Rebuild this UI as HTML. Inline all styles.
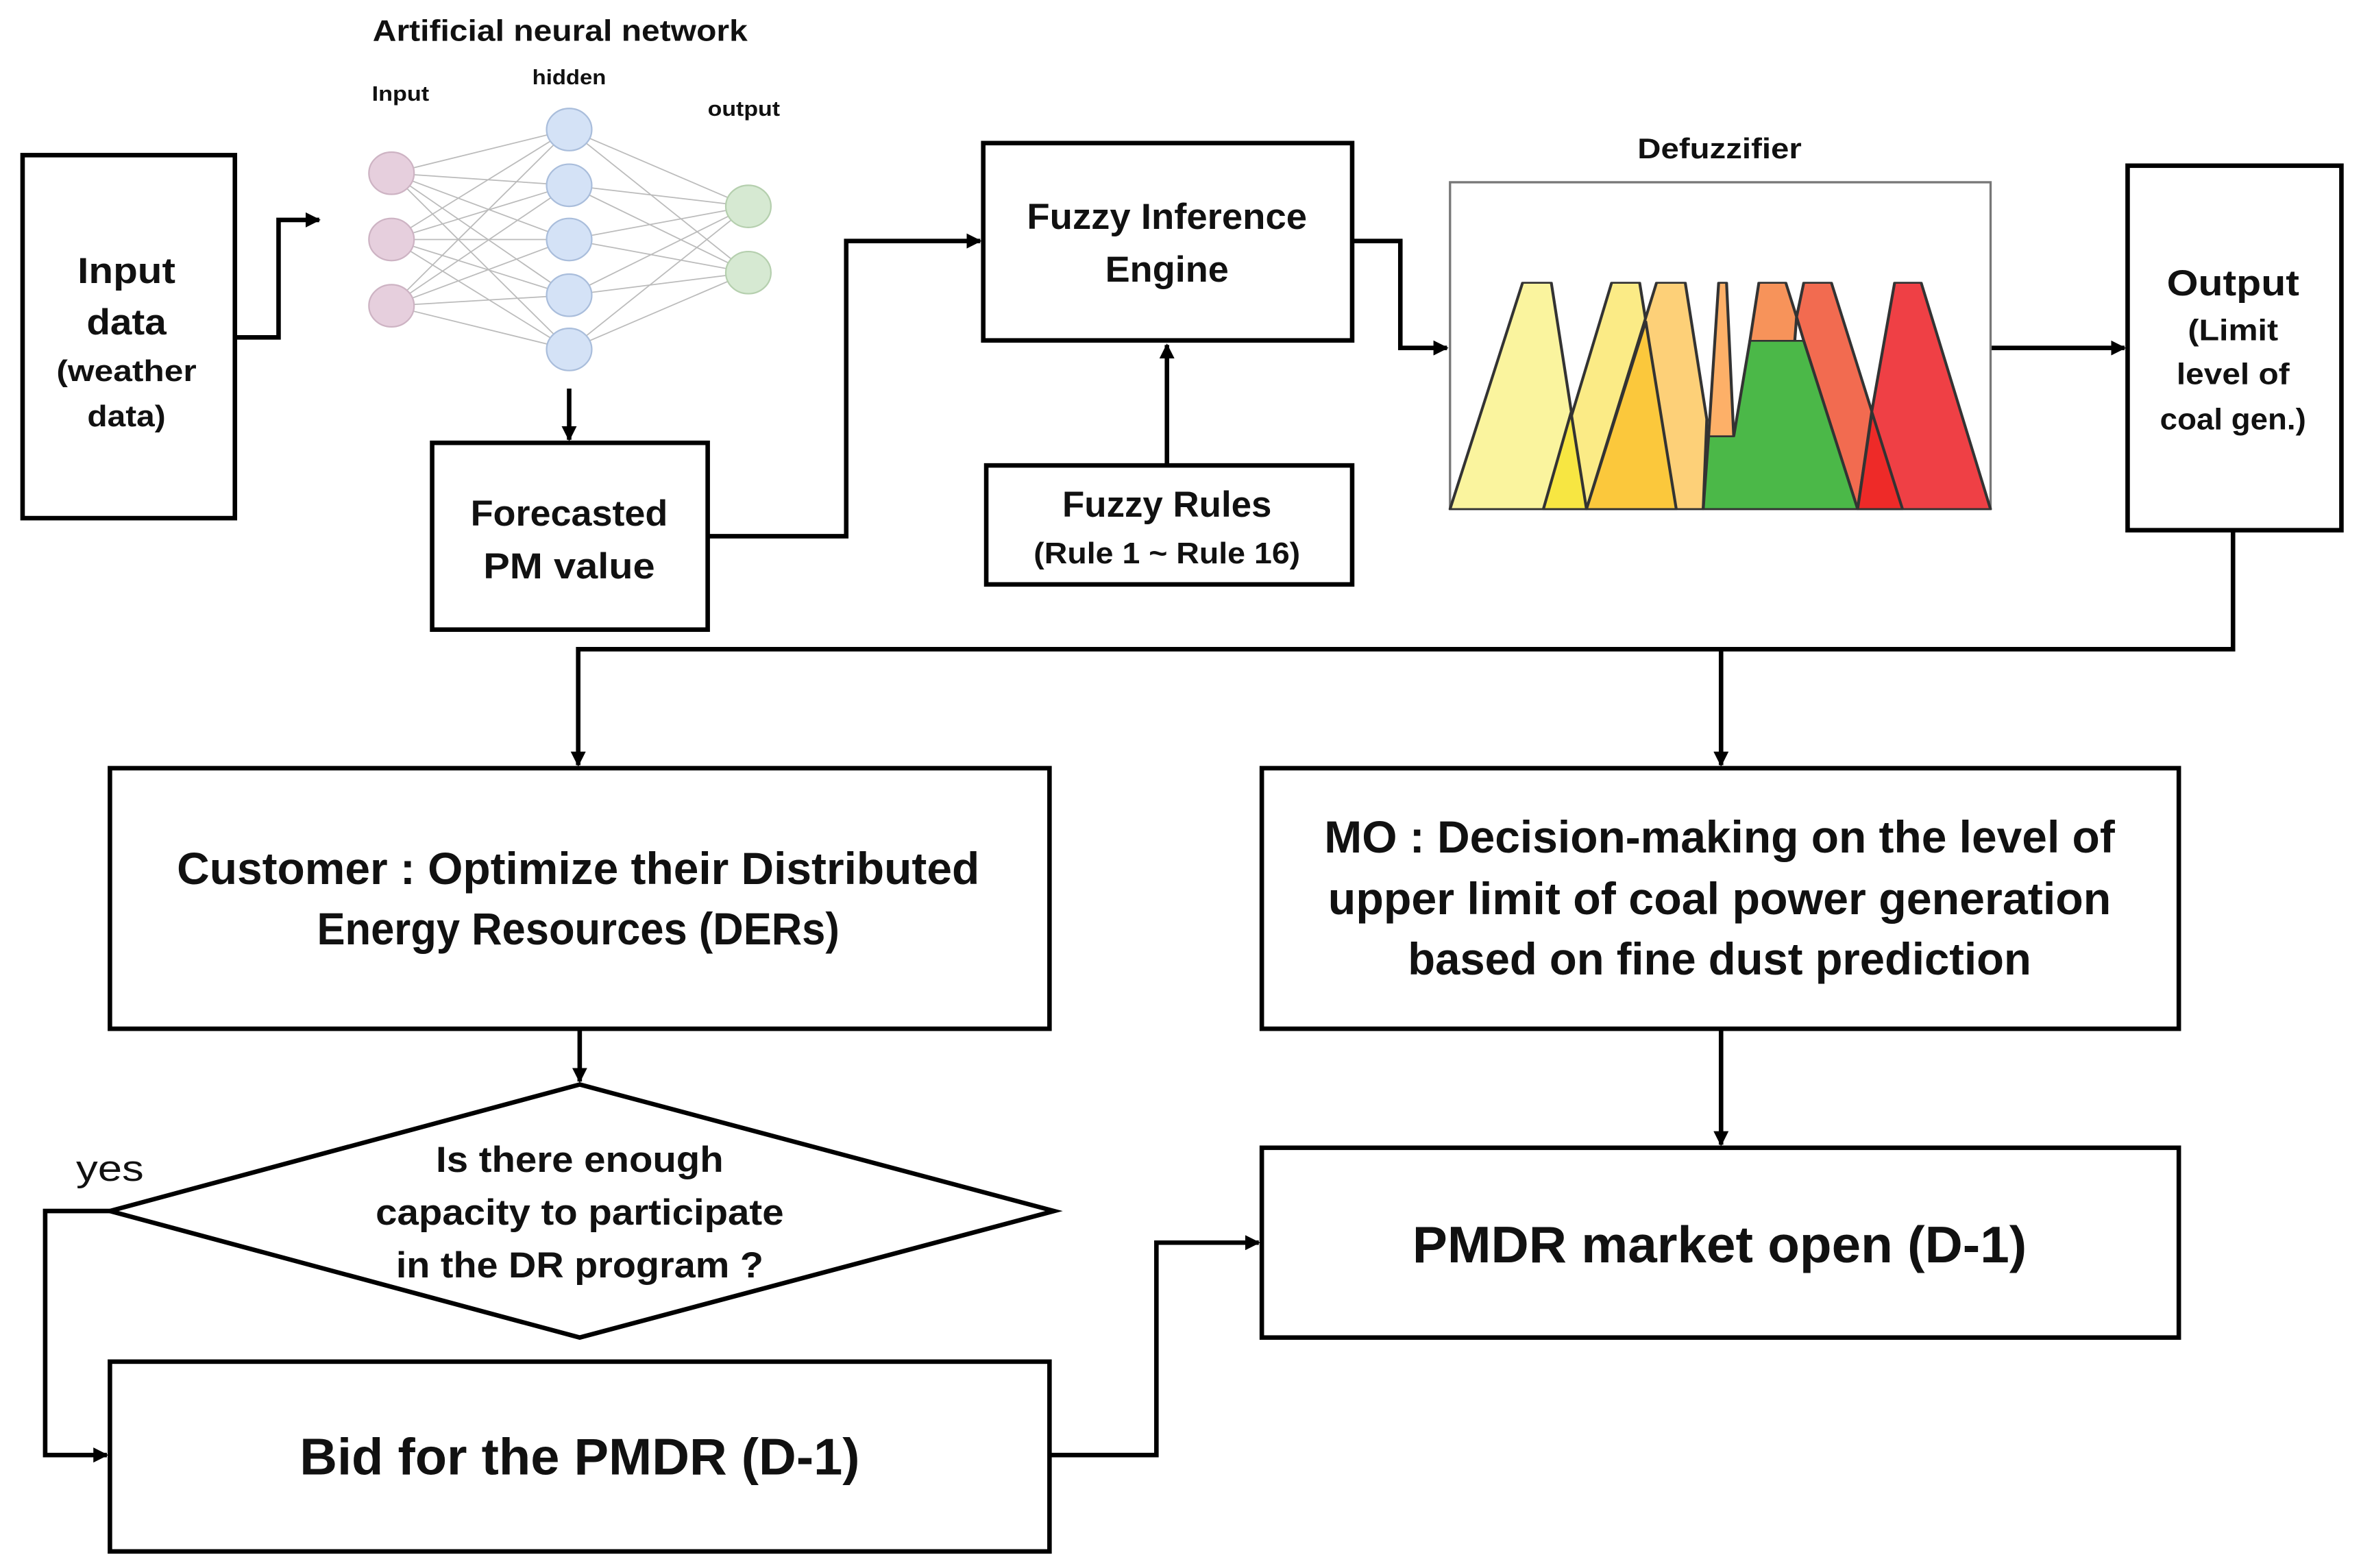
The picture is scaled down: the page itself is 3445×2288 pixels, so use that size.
<!DOCTYPE html>
<html><head><meta charset="utf-8"><style>html,body{margin:0;padding:0;background:#fff}svg{display:block}text{font-family:"Liberation Sans",sans-serif;font-weight:bold;fill:#111;text-anchor:middle}</style></head>
<body>
<svg width="3445" height="2288" viewBox="0 0 1568 1041" preserveAspectRatio="none" xmlns="http://www.w3.org/2000/svg">
<defs><marker id="a" markerWidth="10" markerHeight="10" refX="9" refY="5" orient="auto" markerUnits="userSpaceOnUse"><path d="M0,0 L10,5 L0,10 z" fill="#000"/></marker></defs>
<rect width="1568" height="1041" fill="#fff"/>
<g stroke="#000" stroke-width="3" fill="none">
<rect x="15" y="103" width="141" height="241"/>
<rect x="287" y="294" width="183" height="124"/>
<rect x="653" y="95" width="245" height="131"/>
<rect x="655" y="309" width="243" height="79"/>
<rect x="1413" y="110" width="142" height="242"/>
<rect x="73" y="510" width="624" height="173"/>
<rect x="838" y="510" width="609" height="173"/>
<rect x="73" y="904" width="624" height="126"/>
<rect x="838" y="762" width="609" height="126"/>
<polygon points="385,720 700,804 385,888 73,804"/>
<polyline points="156,224 185,224 185,146 212,146" marker-end="url(#a)"/>
<line x1="378" y1="258" x2="378" y2="292" marker-end="url(#a)"/>
<polyline points="470,356 562,356 562,160 651,160" marker-end="url(#a)"/>
<line x1="775" y1="309" x2="775" y2="229" marker-end="url(#a)"/>
<polyline points="898,160 930,160 930,231 961,231" marker-end="url(#a)"/>
<line x1="1322" y1="231" x2="1411" y2="231" marker-end="url(#a)"/>
<polyline points="1483,352 1483,431 384,431 384,508" marker-end="url(#a)"/>
<line x1="1143" y1="431" x2="1143" y2="508" marker-end="url(#a)"/>
<line x1="385" y1="683" x2="385" y2="718" marker-end="url(#a)"/>
<polyline points="73,804 30,804 30,966 71,966" marker-end="url(#a)"/>
<polyline points="697,966 768,966 768,825 836,825" marker-end="url(#a)"/>
<line x1="1143" y1="683" x2="1143" y2="760" marker-end="url(#a)"/>
</g>
<g stroke="#bbb" stroke-width="0.8">
<line x1="260" y1="115" x2="378" y2="86"/><line x1="260" y1="115" x2="378" y2="123"/><line x1="260" y1="115" x2="378" y2="159"/><line x1="260" y1="115" x2="378" y2="196"/><line x1="260" y1="115" x2="378" y2="232"/>
<line x1="260" y1="159" x2="378" y2="86"/><line x1="260" y1="159" x2="378" y2="123"/><line x1="260" y1="159" x2="378" y2="159"/><line x1="260" y1="159" x2="378" y2="196"/><line x1="260" y1="159" x2="378" y2="232"/>
<line x1="260" y1="203" x2="378" y2="86"/><line x1="260" y1="203" x2="378" y2="123"/><line x1="260" y1="203" x2="378" y2="159"/><line x1="260" y1="203" x2="378" y2="196"/><line x1="260" y1="203" x2="378" y2="232"/>
<line x1="378" y1="86" x2="497" y2="137"/><line x1="378" y1="123" x2="497" y2="137"/><line x1="378" y1="159" x2="497" y2="137"/><line x1="378" y1="196" x2="497" y2="137"/><line x1="378" y1="232" x2="497" y2="137"/>
<line x1="378" y1="86" x2="497" y2="181"/><line x1="378" y1="123" x2="497" y2="181"/><line x1="378" y1="159" x2="497" y2="181"/><line x1="378" y1="196" x2="497" y2="181"/><line x1="378" y1="232" x2="497" y2="181"/>
</g>
<g stroke-width="1">
<g fill="#e6cfdd" stroke="#cdb3c3"><ellipse cx="260" cy="115" rx="15" ry="14"/><ellipse cx="260" cy="159" rx="15" ry="14"/><ellipse cx="260" cy="203" rx="15" ry="14"/></g>
<g fill="#d4e2f6" stroke="#a9bddb"><ellipse cx="378" cy="86" rx="15" ry="14"/><ellipse cx="378" cy="123" rx="15" ry="14"/><ellipse cx="378" cy="159" rx="15" ry="14"/><ellipse cx="378" cy="196" rx="15" ry="14"/><ellipse cx="378" cy="232" rx="15" ry="14"/></g>
<g fill="#d6e9d2" stroke="#b5cfae"><ellipse cx="497" cy="137" rx="15" ry="14"/><ellipse cx="497" cy="181" rx="15" ry="14"/></g>
</g>
<rect x="963" y="121" width="359" height="217" fill="#fff" stroke="#777" stroke-width="1.5"/>
<g transform="translate(963,121) scale(0.2385,0.151) translate(-30,-48)" stroke="#333" stroke-width="8" stroke-linejoin="round">
<polygon fill="#faf49e" points="30,1485 232,490 312,490 410,1485"/>
<polygon fill="#fbeb86" points="290,1485 480,490 558,490 660,1485"/>
<polygon fill="#f7e642" points="290,1485 367,1060 410,1485"/>
<polygon fill="#fdd078" points="410,1485 605,490 685,490 745,1090 735,1485"/>
<polygon fill="#fbc83c" points="410,1485 575,660 660,1485"/>
<polygon fill="#fdb068" points="750,1165 778,490 800,490 820,1165"/>
<polygon fill="#f26b50" points="1015,745 995,640 1015,490 1092,490 1290,1485 1165,1485"/>
<polygon fill="#f7935a" points="865,745 890,490 965,490 995,640 990,745"/>
<polygon fill="#4bb848" points="735,1485 750,1165 820,1165 865,745 1015,745 1165,1485"/>
<polygon fill="#ef4045" points="1165,1485 1205,1050 1268,490 1342,490 1535,1485"/>
<polygon fill="#ee2a28" points="1165,1485 1205,1060 1290,1485"/>
</g>
<text x="372" y="27" font-size="20" textLength="249" lengthAdjust="spacingAndGlyphs">Artificial neural network</text>
<text x="266" y="67" font-size="14" textLength="38" lengthAdjust="spacingAndGlyphs">Input</text>
<text x="378" y="56" font-size="14" textLength="49" lengthAdjust="spacingAndGlyphs">hidden</text>
<text x="494" y="77" font-size="14" textLength="48" lengthAdjust="spacingAndGlyphs">output</text>
<text x="84" y="188" font-size="24" textLength="65" lengthAdjust="spacingAndGlyphs">Input</text>
<text x="84" y="222" font-size="24" textLength="53" lengthAdjust="spacingAndGlyphs">data</text>
<text x="84" y="253" font-size="20" textLength="93" lengthAdjust="spacingAndGlyphs">(weather</text>
<text x="84" y="283" font-size="20" textLength="52" lengthAdjust="spacingAndGlyphs">data)</text>
<text x="378" y="349" font-size="24" textLength="131" lengthAdjust="spacingAndGlyphs">Forecasted</text>
<text x="378" y="384" font-size="24" textLength="114" lengthAdjust="spacingAndGlyphs">PM value</text>
<text x="775" y="152" font-size="24" textLength="186" lengthAdjust="spacingAndGlyphs">Fuzzy Inference</text>
<text x="775" y="187" font-size="24" textLength="82" lengthAdjust="spacingAndGlyphs">Engine</text>
<text x="775" y="343" font-size="24" textLength="139" lengthAdjust="spacingAndGlyphs">Fuzzy Rules</text>
<text x="775" y="374" font-size="20" textLength="177" lengthAdjust="spacingAndGlyphs">(Rule 1 ~ Rule 16)</text>
<text x="1142" y="105" font-size="19" textLength="109" lengthAdjust="spacingAndGlyphs">Defuzzifier</text>
<text x="1483" y="196" font-size="24" textLength="88" lengthAdjust="spacingAndGlyphs">Output</text>
<text x="1483" y="226" font-size="20" textLength="60" lengthAdjust="spacingAndGlyphs">(Limit</text>
<text x="1483" y="255" font-size="20" textLength="75" lengthAdjust="spacingAndGlyphs">level of</text>
<text x="1483" y="285" font-size="20" textLength="97" lengthAdjust="spacingAndGlyphs">coal gen.)</text>
<text x="384" y="587" font-size="30" textLength="533" lengthAdjust="spacingAndGlyphs">Customer : Optimize their Distributed</text>
<text x="384" y="627" font-size="30" textLength="347" lengthAdjust="spacingAndGlyphs">Energy Resources (DERs)</text>
<text x="1142" y="566" font-size="30" textLength="525" lengthAdjust="spacingAndGlyphs">MO : Decision-making on the level of</text>
<text x="1142" y="607" font-size="30" textLength="520" lengthAdjust="spacingAndGlyphs">upper limit of coal power generation</text>
<text x="1142" y="647" font-size="30" textLength="414" lengthAdjust="spacingAndGlyphs">based on fine dust prediction</text>
<text x="385" y="778" font-size="24" textLength="191" lengthAdjust="spacingAndGlyphs">Is there enough</text>
<text x="385" y="813" font-size="24" textLength="271" lengthAdjust="spacingAndGlyphs">capacity to participate</text>
<text x="385" y="848" font-size="24" textLength="244" lengthAdjust="spacingAndGlyphs">in the DR program ?</text>
<text x="73" y="784" font-size="24" style="font-weight:normal" textLength="45" lengthAdjust="spacingAndGlyphs">yes</text>
<text x="385" y="979" font-size="34" textLength="372" lengthAdjust="spacingAndGlyphs">Bid for the PMDR (D-1)</text>
<text x="1142" y="838" font-size="34" textLength="408" lengthAdjust="spacingAndGlyphs">PMDR market open (D-1)</text>
</svg>
</body></html>
